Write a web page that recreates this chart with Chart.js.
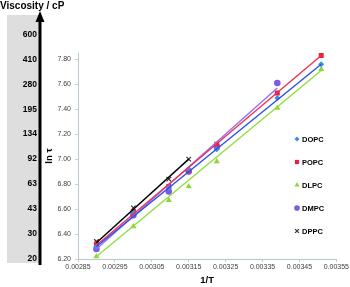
<!DOCTYPE html>
<html>
<head>
<meta charset="utf-8">
<script src="https://cdn.jsdelivr.net/npm/chart.js@4.4.1/dist/chart.umd.min.js"></script>
<style>
  html, body { margin: 0; padding: 0; background: #fff; }
  canvas { display: block; }
</style>
</head>
<body>
<canvas id="viscosityChart" width="350" height="287"></canvas>
<script>
// 1/T of the measured temperatures
const invTemps = [0.0029, 0.003, 0.003096, 0.00315, 0.003226, 0.00339, 0.003509];

// ln tau per lipid
const lnTauDOPC = [6.30, 6.57, 6.77, 6.92, 7.08, 7.49, 7.76];
const lnTauPOPC = [6.32, 6.58, 6.78, 6.91, 7.12, 7.53, 7.83];
const lnTauDLPC = [6.22, 6.46, 6.67, 6.78, 6.98, 7.41, 7.72];
const lnTauDMPC = [6.28, 6.55, 6.74, 6.90, 7.10, 7.61];
const lnTauDPPC = [6.34, 6.61, 6.84, 7.00];

// linear fits, start and end values
const fitDOPC = [6.30, 7.76];
const fitPOPC = [6.31, 7.83];
const fitDLPC = [6.22, 7.71];
const fitDMPC = [6.28, 7.57];
const fitDPPC = [6.33, 7.00];

// axis ticks
const invTempTicks = [0.00285, 0.00295, 0.00305, 0.00315, 0.00325, 0.00335, 0.00345, 0.00355];
const lnTauTicks = [6.2, 6.4, 6.6, 6.8, 7.0, 7.2, 7.4, 7.6, 7.8];
const viscosityTicks = [6.2, 6.4, 6.6, 6.8, 7.0, 7.2, 7.4, 7.6, 7.8, 8.0];
const viscosityLabels = ["20", "30", "43", "63", "92", "134", "195", "280", "410", "600"];

const FONT = "'Liberation Sans', Arial, sans-serif";

function points(values) {
  return values.map((v, i) => ({ x: invTemps[i], y: v }));
}
function fitLine(values, n) {
  return [{ x: invTemps[0], y: values[0] }, { x: invTemps[n - 1], y: values[1] }];
}

const series = [
  { label: "DOPC", data: lnTauDOPC, fit: fitDOPC, style: "rectRot", radius: 3, color: "#3d8ee6", line: "#2b4fe8" },
  { label: "POPC", data: lnTauPOPC, fit: fitPOPC, style: "rect", radius: 3.5, color: "#ee1d3f", line: "#f03050" },
  { label: "DLPC", data: lnTauDLPC, fit: fitDLPC, style: "triangle", radius: 3.5, color: "#8fd43a", line: "#8ee03c" },
  { label: "DMPC", data: lnTauDMPC, fit: fitDMPC, style: "circle", radius: 3.3, color: "#7f5ae6", line: "#9070f0" },
  { label: "DPPC", data: lnTauDPPC, fit: fitDPPC, style: "crossRot", radius: 3.2, color: "#333333", line: "#000000" },
];

const datasets = [];
series.forEach((s) => {
  datasets.push({
    label: s.label + " fit",
    data: fitLine(s.fit, s.data.length),
    showLine: true,
    borderColor: s.line,
    borderWidth: 1.4,
    pointRadius: 0,
    isFit: true,
  });
});
series.forEach((s) => {
  datasets.push({
    label: s.label,
    data: points(s.data),
    showLine: false,
    pointStyle: s.style,
    pointRadius: s.radius,
    backgroundColor: s.color,
    borderColor: s.color,
    borderWidth: s.style === "crossRot" ? 1.2 : 0,
  });
});

// grey viscosity panel, arrow, the label above the axis range, and legend
const decorPlugin = {
  id: "decor",
  beforeDraw(chart) {
    const ctx = chart.ctx;
    const yv = chart.scales.yv;
    ctx.save();
    ctx.fillStyle = "#ffffff";
    ctx.fillRect(0, 0, chart.width, chart.height);
    ctx.fillStyle = "#dedede";
    ctx.fillRect(7, 15, yv.right - 7, chart.chartArea.bottom + 4 - 15);
    ctx.restore();
  },
  afterDraw(chart) {
    const ctx = chart.ctx;
    const yv = chart.scales.yv;
    ctx.save();
    // arrow
    const ax = yv.right;
    ctx.strokeStyle = "#000";
    ctx.lineWidth = 3;
    ctx.beginPath();
    ctx.moveTo(ax, chart.chartArea.bottom + 6);
    ctx.lineTo(ax, 20);
    ctx.stroke();
    ctx.fillStyle = "#000";
    ctx.beginPath();
    ctx.moveTo(ax, 11);
    ctx.lineTo(ax - 4.5, 22);
    ctx.lineTo(ax + 4.5, 22);
    ctx.closePath();
    ctx.fill();
    // viscosity labels beyond the plotted range
    ctx.font = "bold 8.5px " + FONT;
    ctx.textAlign = "right";
    ctx.textBaseline = "middle";
    viscosityTicks.forEach((v, i) => {
      if (v > yv.max) {
        ctx.fillText(viscosityLabels[i], yv.right - 3, yv.getPixelForValue(v));
      }
    });
    // legend
    let ly = 139;
    ctx.font = "bold 7.5px " + FONT;
    ctx.textAlign = "left";
    chart.data.datasets.forEach((ds) => {
      if (ds.isFit) return;
      ctx.fillStyle = ds.backgroundColor;
      ctx.strokeStyle = ds.borderColor;
      ctx.lineWidth = ds.borderWidth;
      Chart.helpers.drawPoint(ctx, {
        pointStyle: ds.pointStyle,
        radius: ds.pointRadius * 0.85,
        borderWidth: ds.borderWidth,
        rotation: 0,
      }, 297, ly);
      ctx.fillStyle = "#000";
      ctx.fillText(ds.label, 302, ly + 0.5);
      ly += 23;
    });
    ctx.restore();
  },
};

const ctx = document.getElementById("viscosityChart").getContext("2d");
new Chart(ctx, {
  type: "scatter",
  data: { datasets: datasets },
  plugins: [decorPlugin],
  options: {
    responsive: false,
    animation: false,
    devicePixelRatio: 1,
    layout: { padding: { left: 0, right: 13, top: 0, bottom: 0 } },
    plugins: {
      legend: { display: false },
      tooltip: { enabled: false },
      title: {
        display: true,
        text: "Viscosity / cP",
        align: "start",
        color: "#000",
        font: { family: FONT, size: 10, weight: "bold", lineHeight: 1.2 },
        padding: { top: 0, bottom: 41 },
      },
    },
    scales: {
      x: {
        type: "linear",
        min: 0.00285,
        max: 0.00355,
        afterBuildTicks: (scale) => {
          scale.ticks = invTempTicks.map((v) => ({ value: v }));
        },
        afterFit: (scale) => {
          scale.height = 28;
        },
        ticks: {
          callback: (v) => v.toFixed(5),
          font: { family: FONT, size: 7 },
          color: "#404040",
          padding: 1,
          maxRotation: 0,
        },
        grid: { drawOnChartArea: false, drawTicks: true, tickLength: 3, color: "#c4d2d8" },
        border: { color: "#b8c8d0" },
        title: {
          display: true,
          text: "1/T",
          color: "#000",
          font: { family: FONT, size: 9.5, weight: "bold" },
          padding: { top: 0, bottom: 1 },
        },
      },
      y: {
        type: "linear",
        position: "left",
        weight: 0,
        min: 6.2,
        max: 7.85,
        afterBuildTicks: (scale) => {
          scale.ticks = lnTauTicks.map((v) => ({ value: v }));
        },
        afterFit: (scale) => {
          scale.width = 38;
        },
        ticks: {
          callback: (v) => v.toFixed(2),
          font: { family: FONT, size: 7 },
          color: "#404040",
          padding: 4,
        },
        grid: { drawOnChartArea: false, drawTicks: true, tickLength: 3, color: "#c4d2d8" },
        border: { color: "#b8c8d0" },
        title: {
          display: true,
          text: "ln τ",
          color: "#000",
          font: { family: FONT, size: 9.5, weight: "bold" },
          padding: { top: 4, bottom: 0 },
        },
      },
      yv: {
        type: "linear",
        position: "left",
        weight: 1,
        min: 6.2,
        max: 7.85,
        afterBuildTicks: (scale) => {
          scale.ticks = viscosityTicks
            .filter((v) => v <= scale.max)
            .map((v) => ({ value: v }));
        },
        afterFit: (scale) => {
          scale.width = 40;
        },
        ticks: {
          callback: (v) => viscosityLabels[viscosityTicks.indexOf(v)],
          font: { family: FONT, size: 8.5, weight: "bold" },
          color: "#000",
          padding: 3,
        },
        grid: { display: false, drawTicks: false },
        border: { display: false },
      },
    },
  },
});
</script>
</body>
</html>
